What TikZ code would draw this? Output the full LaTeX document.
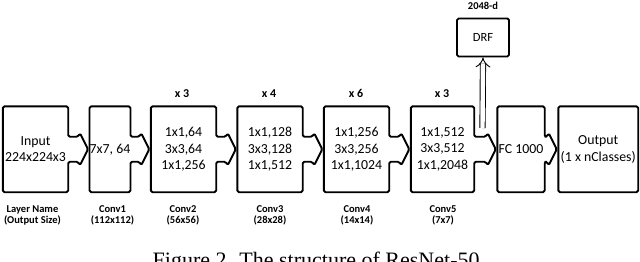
\documentclass[tikz,border=0pt]{standalone}
\usepackage{fontspec}
\setmainfont{Carlito}
\newfontfamily\capfont{Liberation Serif}
\usetikzlibrary{calc,arrows.meta}
\newcommand\blockarrow[2]{%
  \draw[outl] let \p1=(#1.north west), \p2=(#1.south east), \p3=(#2.west) in
  (\x1,\y2) -- (\x1,\y1) -- (\x2,\y1) -- (\x2,\y3+12.5pt) -- (\x3-11.5pt,\y3+12.5pt)
  -- (\x3-9.5pt,\y3+16pt) -- (\x3-1.5pt,\y3) -- (\x3-9.5pt,\y3-16pt)
  -- (\x3-11.5pt,\y3-12.5pt) -- (\x2,\y3-12.5pt) -- (\x2,\y2) -- cycle;}
\begin{document}
\begin{tikzpicture}[x=1pt,y=-1pt,
  box/.style={rectangle, inner sep=0pt, minimum height=85.5pt, align=center,
    font=\fontsize{13.8}{16.5}\selectfont},
  outl/.style={line width=1.9pt, rounded corners=1.6pt, line join=round},
  toplab/.style={inner sep=0pt, font=\bfseries\fontsize{12}{14}\selectfont},
  botlab/.style={inner sep=0pt, align=center, font=\bfseries\fontsize{10.5}{11.5}\selectfont},
  pipe/.style={double, double distance=4.4pt, line width=0.9pt, -{Implies}}]
\useasboundingbox (0,0) rectangle (640,262);

% blocks
\node[box, minimum width=65pt] (in)  at (35.5,149.25)  {Input\\224x224x3};
\node[box, minimum width=39pt] (c1)  at (110,149.25)   {7x7, 64};
\node[box, minimum width=65pt] (c2)  at (183.5,149.25) {1x1,64\\3x3,64\\1x1,256};
\node[box, minimum width=65pt] (c3)  at (270,149.25)   {1x1,128\\3x3,128\\1x1,512};
\node[box, minimum width=65pt] (c4)  at (356.5,149.25) {1x1,256\\3x3,256\\1x1,1024};
\node[box, minimum width=63pt] (c5)  at (442.5,149.25) {1x1,512\\3x3,512\\1x1,2048};
\node[box, minimum width=47pt] (fc)  at (521,149.25)   {FC 1000};
\node[box, minimum width=79.5pt] (out) at (598.25,149.25) {Output\\(1 x nClasses)};

\blockarrow{in}{c1}
\blockarrow{c1}{c2}
\blockarrow{c2}{c3}
\blockarrow{c3}{c4}
\blockarrow{c4}{c5}
\blockarrow{c5}{fc}
\blockarrow{fc}{out}
\draw[outl] (out.north west) rectangle (out.south east);

% DRF branch
\node[draw, outl, minimum width=52pt, minimum height=38pt, inner sep=0pt,
  font=\fontsize{12.5}{14}\selectfont] (drf) at (483,37.5) {DRF};
\node[toplab, font=\bfseries\fontsize{10.5}{12}\selectfont] (dim) at (483,6) {2048-d};
\coordinate (pb) at (482.5,128);
\draw[pipe] (pb) -- (drf.south);

% repeat counts
\node[toplab] (r2) at (182,93.5) {x 3};
\node[toplab] (r3) at (269,93.5) {x 4};
\node[toplab] (r4) at (356,93.5) {x 6};
\node[toplab] (r5) at (442,93.5) {x 3};

% layer names
\node[botlab] (ln)  at (32.5,215.5) {Layer Name\\(Output Size)};
\node[botlab] (l1)  at (112.5,215.5) {Conv1\\(112x112)};
\node[botlab] (l2)  at (183,215.5) {Conv2\\(56x56)};
\node[botlab] (l3)  at (270,215.5) {Conv3\\(28x28)};
\node[botlab] (l4)  at (357,215.5) {Conv4\\(14x14)};
\node[botlab] (l5)  at (443,215.5) {Conv5\\(7x7)};

% caption
\node[anchor=base west, inner sep=0pt, font=\capfont\fontsize{22}{26}\selectfont]
  (cap) at (152.5,267) {Figure 2. The structure of ResNet-50.};
\end{tikzpicture}
\end{document}
